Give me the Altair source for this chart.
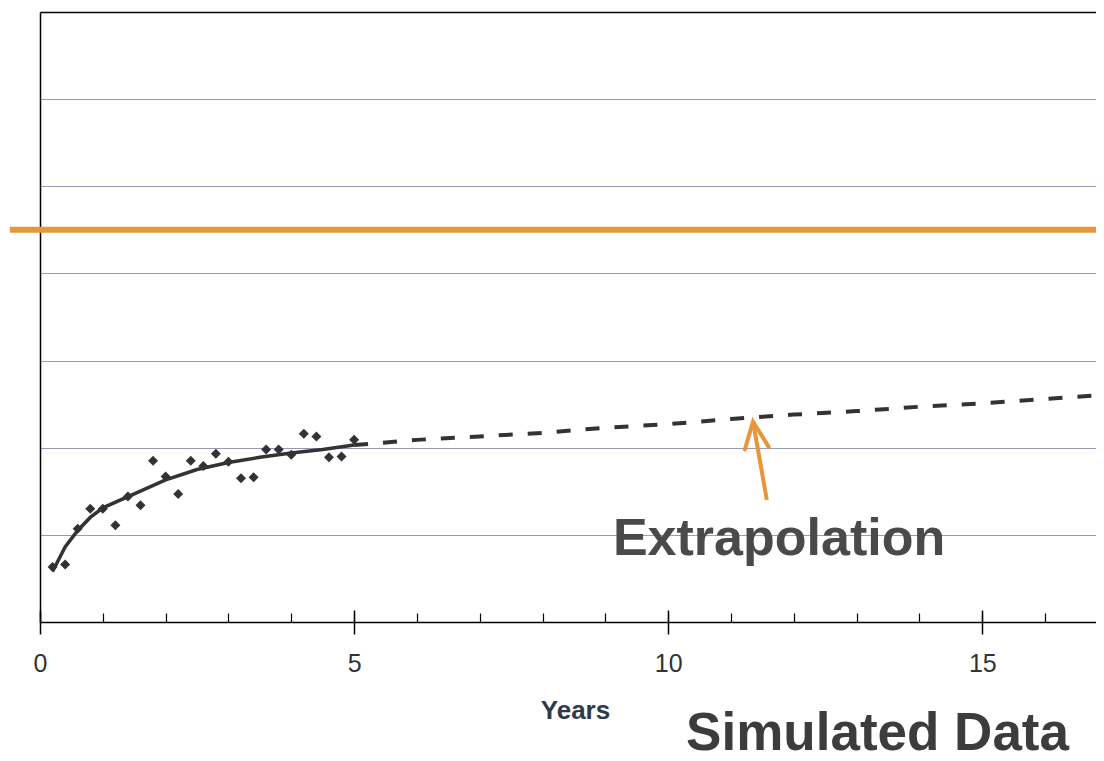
import altair as alt
import pandas as pd

# ---- data ----
PT_YEARS = [0.2, 0.4, 0.6, 0.8, 1.0, 1.2, 1.4, 1.6, 1.8, 2.0, 2.2, 2.4, 2.6,
            2.8, 3.0, 3.2, 3.4, 3.6, 3.8, 4.0, 4.2, 4.4, 4.6, 4.8, 5.0]
PT_VALUES = [0.63, 0.66, 1.07, 1.30, 1.30, 1.11, 1.44, 1.34, 1.85, 1.67, 1.47,
             1.85, 1.79, 1.93, 1.84, 1.65, 1.66, 1.98, 1.98, 1.92, 2.16, 2.13,
             1.89, 1.90, 2.09]

FIT_YEARS = [0.2, 0.4, 0.6, 0.8, 1.0, 1.5, 2.0, 2.5, 3.0, 3.5, 4.0, 4.5, 5.0]
FIT_VALUES = [0.58, 0.86, 1.05, 1.20, 1.31, 1.47, 1.63, 1.75, 1.83, 1.89, 1.94,
              1.98, 2.03]

EXT_YEARS = [5, 6, 7, 8, 9, 10, 11, 12, 13, 14, 15, 16, 17]
EXT_VALUES = [2.03, 2.09, 2.13, 2.17, 2.23, 2.27, 2.33, 2.38, 2.42, 2.47, 2.51,
              2.56, 2.61]

TARGET_LEVEL = [4.5]
TARGET_START = [-0.48]
X_MAX = 16.81
Y_MAX = 7
GRID_VALUES = [1, 2, 3, 4, 5, 6]
MAJOR_TICKS = [0, 5, 10, 15]
MINOR_TICKS = list(range(0, 17))

ARROW_SHAFT_X = [11.57, 11.35]
ARROW_SHAFT_Y = [1.40, 2.30]
ARROW_HEAD_X = [11.22, 11.35, 11.60]
ARROW_HEAD_Y = [1.98, 2.30, 2.01]

LABEL_TEXT = ["Extrapolation"]
LABEL_X = [9.12]
LABEL_Y = [0.77]

FONT = "Liberation Sans"
DARK = "#333333"
ORANGE = "#E9963A"

pts = pd.DataFrame({"Years": PT_YEARS, "Value": PT_VALUES})
fit = pd.DataFrame({"Years": FIT_YEARS, "Value": FIT_VALUES})
ext = pd.DataFrame({"Years": EXT_YEARS, "Value": EXT_VALUES})
target = pd.DataFrame({"x": TARGET_START, "x2": [X_MAX], "y": TARGET_LEVEL})
shaft = pd.DataFrame({"Years": ARROW_SHAFT_X, "Value": ARROW_SHAFT_Y, "o": [0, 1]})
head = pd.DataFrame({"Years": ARROW_HEAD_X, "Value": ARROW_HEAD_Y, "o": [0, 1, 2]})
lab = pd.DataFrame({"t": LABEL_TEXT, "Years": LABEL_X, "Value": LABEL_Y})

xs = alt.Scale(domain=[0, X_MAX], nice=False, zero=False)
ys = alt.Scale(domain=[0, Y_MAX], nice=False, zero=False)

# major ticks + labels + title; y gridlines + left axis line
points = alt.Chart(pts).mark_point(
    shape="diamond", filled=True, color=DARK, size=100, opacity=1
).encode(
    x=alt.X("Years:Q", scale=xs, axis=alt.Axis(
        orient="bottom", values=MAJOR_TICKS, offset=-12, tickSize=24,
        tickColor="black", tickWidth=1.5, domain=False, grid=False,
        labelFont=FONT, labelFontSize=25, labelColor=DARK, labelPadding=17,
        labelFlush=False,
        title="Years", titleFont=FONT, titleFontSize=26,
        titleFontWeight="bold", titleColor="#2f3a48",
        titleX=535, titleY=108, titleBaseline="alphabetic")),
    y=alt.Y("Value:Q", scale=ys, axis=alt.Axis(
        orient="left", values=GRID_VALUES, grid=True, gridColor="#9a9ab6",
        gridWidth=1, ticks=False, labels=False, domain=True,
        domainColor="black", domainWidth=1.5, title=None)),
)

# minor ticks
fit_line = alt.Chart(fit).mark_line(color=DARK, strokeWidth=3.5, clip=True).encode(
    x=alt.X("Years:Q", scale=xs, axis=alt.Axis(
        orient="bottom", values=MINOR_TICKS, offset=-9, tickSize=9,
        tickColor="black", tickWidth=1.2, domain=False, labels=False,
        grid=False, title=None)),
    y=alt.Y("Value:Q", scale=ys, axis=None),
)

# x domain line
ext_line = alt.Chart(ext).mark_line(
    color=DARK, strokeWidth=4, strokeDash=[14, 15], clip=True
).encode(
    x=alt.X("Years:Q", scale=xs, axis=alt.Axis(
        orient="bottom", ticks=False, labels=False, domain=True,
        domainColor="black", domainWidth=1.5, grid=False, title=None)),
    y=alt.Y("Value:Q", scale=ys, axis=None),
)

# target line + top border
target_line = alt.Chart(target).mark_rule(
    color=ORANGE, strokeWidth=6, clip=False
).encode(
    x=alt.X("x:Q", scale=xs, axis=alt.Axis(
        orient="top", ticks=False, labels=False, domain=True,
        domainColor="black", domainWidth=1.5, grid=False, title=None)),
    x2="x2:Q",
    y=alt.Y("y:Q", scale=ys, axis=None),
)

arrow_shaft = alt.Chart(shaft).mark_line(color=ORANGE, strokeWidth=4).encode(
    x=alt.X("Years:Q", scale=xs, axis=None),
    y=alt.Y("Value:Q", scale=ys, axis=None),
    order="o:Q",
)
arrow_head = alt.Chart(head).mark_line(
    color=ORANGE, strokeWidth=4, strokeJoin="miter", strokeCap="round"
).encode(
    x=alt.X("Years:Q", scale=xs, axis=None),
    y=alt.Y("Value:Q", scale=ys, axis=None),
    order="o:Q",
)

label = alt.Chart(lab).mark_text(
    font=FONT, fontSize=52, fontWeight="bold", color="#4a4a4a",
    align="left", baseline="alphabetic"
).encode(
    x=alt.X("Years:Q", scale=xs, axis=None),
    y=alt.Y("Value:Q", scale=ys, axis=None),
    text="t:N",
)

chart = alt.layer(
    points, target_line, ext_line, fit_line, arrow_shaft, arrow_head, label
).resolve_axis(x="independent", y="independent").properties(
    width=1056, height=610,
    padding={"left": 32, "top": 4, "right": 0, "bottom": 131},
    autosize=alt.AutoSizeParams(type="none"),
    title=alt.TitleParams(
        "Simulated Data", orient="bottom", anchor="end", font=FONT,
        fontSize=53, fontWeight="bold", color="#3c3c3c", dx=-30, dy=27,
        baseline="alphabetic", offset=0),
).configure_view(stroke=None).configure(background="white")

chart.save("out.html", embed_options={"renderer": "svg", "actions": False})
